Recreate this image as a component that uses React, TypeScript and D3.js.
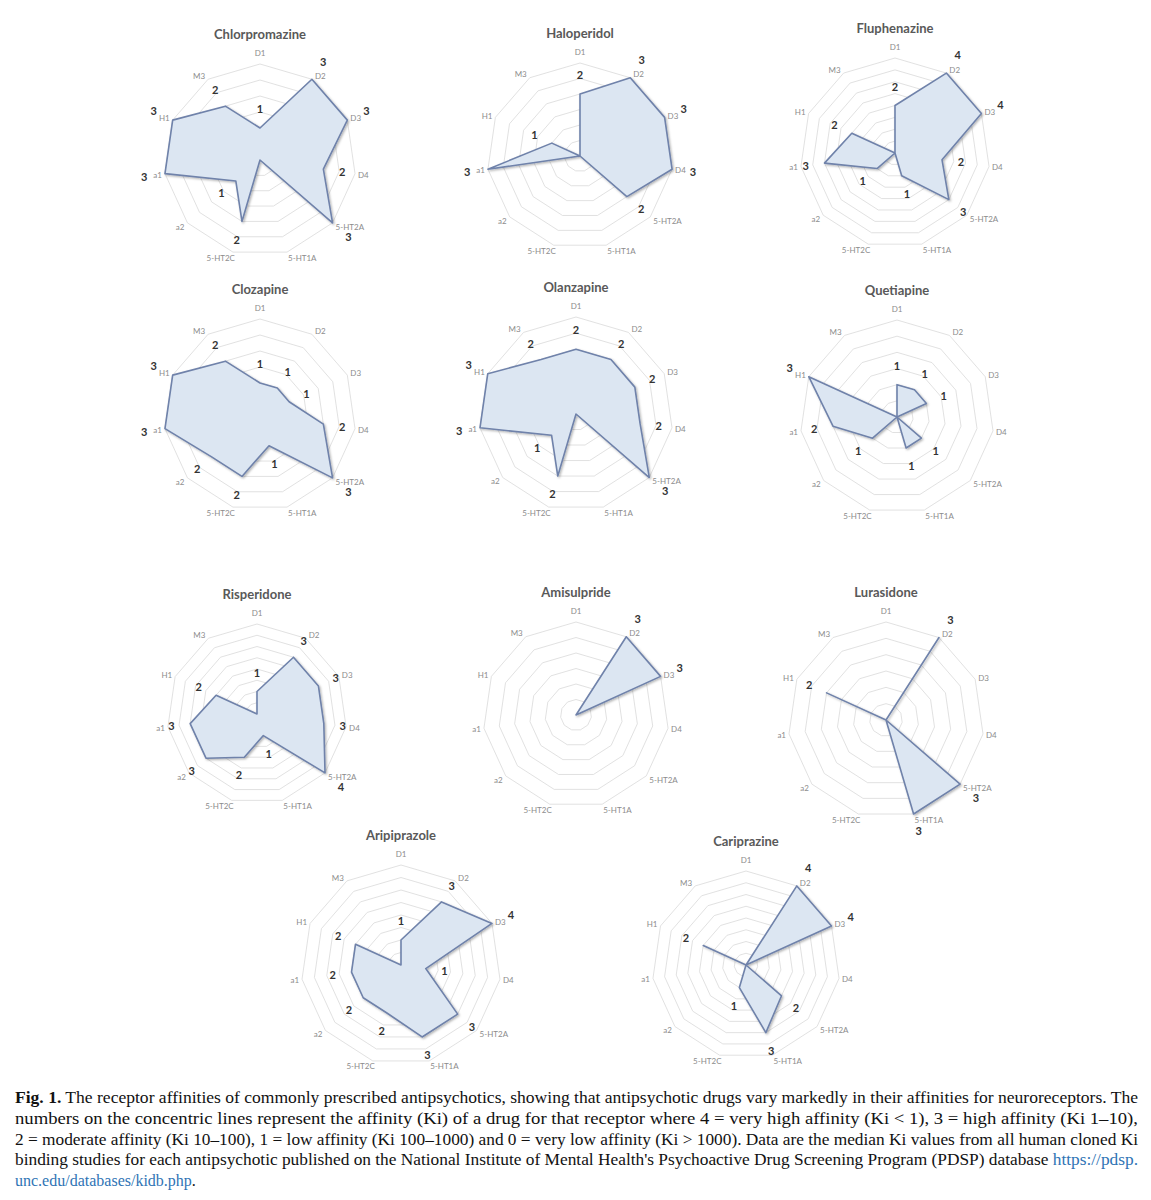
import React from 'react';
import * as d3 from 'd3';

// receptor axes, clockwise from the top
const receptors = ['D1', 'D2', 'D3', 'D4', '5-HT2A', '5-HT1A', '5-HT2C', 'a2', 'a1', 'H1', 'M3'];

const drugs = [
  'Chlorpromazine', 'Haloperidol', 'Fluphenazine',
  'Clozapine', 'Olanzapine', 'Quetiapine',
  'Risperidone', 'Amisulpride', 'Lurasidone',
  'Aripiprazole', 'Cariprazine',
];

// affinity score per receptor (4 very high ... 0 very low)
const chlorpromazine = [1, 3, 3, 2, 3, 0, 2, 1, 3, 3, 2];
const haloperidol = [2, 3, 3, 3, 2, 0, 0, 0, 3, 1, 0];
const fluphenazine = [2, 4, 4, 2, 3, 1, 0, 1, 3, 2, 0];
const clozapine = [1, 1, 1, 2, 3, 1, 2, 2, 3, 3, 2];
const olanzapine = [2, 2, 2, 2, 3, 0, 2, 1, 3, 3, 2];
const quetiapine = [1, 1, 1, 0, 1, 1, 0, 1, 2, 3, 0];
const risperidone = [1, 3, 3, 3, 4, 1, 2, 3, 3, 2, 0];
const amisulpride = [0, 3, 3, 0, 0, 0, 0, 0, 0, 0, 0];
const lurasidone = [0, 3, 0, 0, 3, 3, 0, 0, 0, 2, 0];
const aripiprazole = [1, 3, 4, 1, 3, 3, 2, 2, 2, 2, 0];
const cariprazine = [0, 4, 4, 0, 2, 3, 1, 0, 0, 2, 0];

const affinities = [
  chlorpromazine, haloperidol, fluphenazine,
  clozapine, olanzapine, quetiapine,
  risperidone, amisulpride, lurasidone,
  aripiprazole, cariprazine,
];

const ringStep = 0.5;

// where each little radar sits on the page
const panels = [
  { cx: 260, cy: 160, r: 96 },
  { cx: 580, cy: 156, r: 93 },
  { cx: 895, cy: 153, r: 95 },
  { cx: 260, cy: 415, r: 96 },
  { cx: 576, cy: 414, r: 97 },
  { cx: 897, cy: 417, r: 97 },
  { cx: 257, cy: 714, r: 90 },
  { cx: 576, cy: 715, r: 93 },
  { cx: 886, cy: 720, r: 98 },
  { cx: 401, cy: 965, r: 100 },
  { cx: 746, cy: 965, r: 94 },
];

const captionLines = [
  'The receptor affinities of commonly prescribed antipsychotics, showing that antipsychotic drugs vary markedly in their affinities for neuroreceptors. The',
  'numbers on the concentric lines represent the affinity (Ki) of a drug for that receptor where 4 = very high affinity (Ki < 1), 3 = high affinity (Ki 1–10),',
  '2 = moderate affinity (Ki 10–100), 1 = low affinity (Ki 100–1000) and 0 = very low affinity (Ki > 1000). Data are the median Ki values from all human cloned Ki',
  "binding studies for each antipsychotic published on the National Institute of Mental Health's Psychoactive Drug Screening Program (PDSP) database ",
];

const angle = d3.scaleLinear().domain([0, receptors.length]).range([0, 2 * Math.PI]);
const sans = "Lato, 'Open Sans', sans-serif";

function Radar({ name, values, panel }: { name: string; values: number[]; panel: { cx: number; cy: number; r: number } }) {
  const { cx, cy, r: R } = panel;
  const max = d3.max(values) as number;
  const radius = d3.scaleLinear().domain([0, max]).range([0, R]);
  const levels = d3.range(ringStep, max + 1e-9, ringStep);
  const idx = d3.range(receptors.length);

  const ring = (lv: number) =>
    d3.lineRadial<number>()
      .angle(j => angle(j))
      .radius(() => radius(lv))
      .curve(d3.curveLinearClosed)(idx) || '';

  const shape = d3.lineRadial<number>()
    .angle((_, j) => angle(j))
    .radius(v => radius(v))
    .curve(d3.curveLinearClosed)(values) || '';

  return (
    <g>
      <text x={cx} y={cy - R - 25} textAnchor="middle" fontFamily={sans}
        fontWeight={700} fontSize={13} fill="#595959">{name}</text>
      <g transform={`translate(${cx},${cy})`}>
        {levels.map(lv => (
          <path key={lv} d={ring(lv)} fill="none" stroke="#d9d9d9" strokeWidth={0.8} />
        ))}
        <path d={shape} fill="#dce6f2" stroke="#6f82aa" strokeWidth={1.6}
          strokeLinejoin="round" filter="url(#shadow)" />
        {receptors.map((lab, j) => {
          const a = angle(j);
          const s = Math.sin(a), c = Math.cos(a);
          const px = R * s, py = -R * c;
          let anchor = 'middle', dx = 0;
          if (s > 0.15) { anchor = 'start'; dx = Math.abs(c) > 0.9 ? 1 : 3; }
          else if (s < -0.15) { anchor = 'end'; dx = Math.abs(c) > 0.9 ? 2 : -3; }
          const dy = c > 0.9 ? -8.5 : c < -0.9 ? 8.5 : c >= 0 ? 3 - 4 * c : 3 - 6 * c;
          return (
            <text key={lab} x={px + dx} y={py + dy} textAnchor={anchor}
              fontFamily={sans} fontSize={8} fill="#8c8c8c">{lab}</text>
          );
        })}
        {values.map((v, j) => {
          if (!v) return null;
          const a = angle(j);
          const bottom = Math.cos(a) < -0.9;
          const rv = radius(v) + (v === max ? (bottom ? 18 : 21) : 19);
          return (
            <text key={j} x={rv * Math.sin(a)} y={-rv * Math.cos(a) + 4} textAnchor="middle"
              fontFamily={sans} fontWeight={700} fontSize={11} fill="#333">{v}</text>
          );
        })}
      </g>
    </g>
  );
}

export default function App() {
  const W = 1151, H = 1200;
  const capX = 15, capW = 1123, capY = 1103, lh = 20.8;
  const serif = "'Liberation Serif', 'DejaVu Serif', serif";
  return (
    <div style={{ position: 'absolute', left: 0, top: 0, width: W, height: H, background: '#fff' }}>
      <svg width={W} height={H} viewBox={`0 0 ${W} ${H}`}>
        <defs>
          <filter id="shadow" x="-20%" y="-20%" width="140%" height="140%">
            <feDropShadow dx={1.2} dy={1.2} stdDeviation={0.8} floodColor="#000" floodOpacity={0.3} />
          </filter>
        </defs>
        <rect width={W} height={H} fill="#fff" />
        {drugs.map((d, i) => (
          <Radar key={d} name={d} values={affinities[i]} panel={panels[i]} />
        ))}
        <g fontFamily={serif} fontSize={16} fill="#111">
          <text x={capX} y={capY} textLength={capW} lengthAdjust="spacingAndGlyphs">
            <tspan fontWeight={700}>Fig. 1.</tspan> {captionLines[0]}
          </text>
          <text x={capX} y={capY + lh} textLength={capW} lengthAdjust="spacingAndGlyphs">{captionLines[1]}</text>
          <text x={capX} y={capY + 2 * lh} textLength={capW} lengthAdjust="spacingAndGlyphs">{captionLines[2]}</text>
          <text x={capX} y={capY + 3 * lh} textLength={capW} lengthAdjust="spacingAndGlyphs">
            {captionLines[3]}<tspan fill="#2f74b5">https://pdsp.</tspan>
          </text>
          <text x={capX} y={capY + 4 * lh}>
            <tspan fill="#2f74b5">unc.edu/databases/kidb.php</tspan>.
          </text>
        </g>
      </svg>
    </div>
  );
}
